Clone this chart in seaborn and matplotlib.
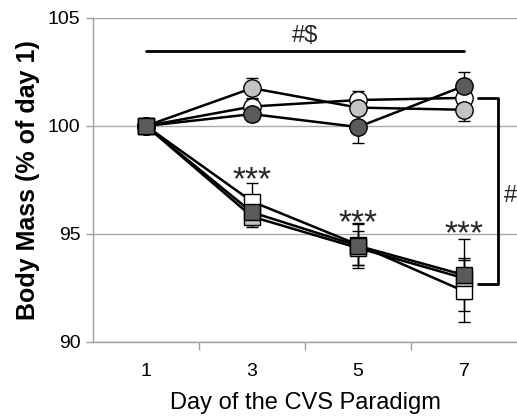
import numpy as np
import pandas as pd
import matplotlib
matplotlib.use('Agg')
import matplotlib.pyplot as plt
import seaborn as sns

# 数据
days = ['1', '3', '5', '7']
ctrl_white = [100, 100.9, 101.2, 101.3]
ctrl_white_err = [0, 0.35, 0.4, 0.3]
ctrl_light = [100, 101.75, 100.85, 100.75]
ctrl_light_err = [0, 0.45, 0.35, 0.5]
ctrl_dark = [100, 100.55, 99.95, 101.85]
ctrl_dark_err = [0, 0.3, 0.75, 0.65]
cvs_white = [100, 96.5, 94.5, 92.35]
cvs_white_err = [0, 0.85, 0.95, 1.45]
cvs_light = [100, 95.8, 94.35, 92.95]
cvs_light_err = [0, 0.5, 0.8, 0.95]
cvs_dark = [100, 96.0, 94.45, 93.1]
cvs_dark_err = [0, 0.6, 1.05, 1.65]

sns.set_theme(style='white')
plt.rcParams['font.family'] = ['Liberation Sans', 'DejaVu Sans']

fig = plt.figure(figsize=(5.17, 4.18), dpi=100)
ax = fig.add_axes([0.18, 0.182, 0.82, 0.775])

x = np.arange(len(days))
series = [
    (ctrl_white, ctrl_white_err, 'o', 'white'),
    (ctrl_light, ctrl_light_err, 'o', '#c3c3c3'),
    (ctrl_dark, ctrl_dark_err, 'o', '#5a5a5a'),
    (cvs_white, cvs_white_err, 's', 'white'),
    (cvs_light, cvs_light_err, 's', '#c3c3c3'),
    (cvs_dark, cvs_dark_err, 's', '#5a5a5a'),
]

# 误差线放在最下面
for vals, err, mk, fc in series:
    ax.errorbar(x, vals, yerr=err, fmt='none', ecolor='black', elinewidth=1,
                capsize=4.5, capthick=1, zorder=2)

for i, (vals, err, mk, fc) in enumerate(series):
    sns.lineplot(x=x, y=vals, ax=ax, color='black', linewidth=1.8,
                 marker=mk, markersize=12.5 if mk == 'o' else 12,
                 markerfacecolor=fc, markeredgecolor='black', markeredgewidth=1,
                 zorder=3 + i)

# 坐标轴
ax.set_xlim(-0.5, 3.5)
ax.set_ylim(90, 105)
ax.set_yticks([90, 95, 100, 105])
ax.set_xticks(x)
ax.set_xticklabels(days)
ax.set_xticks([0.5, 1.5, 2.5], minor=True)
ax.tick_params(axis='x', which='major', length=0, pad=15, labelsize=14, colors='black')
ax.tick_params(axis='x', which='minor', length=6, width=1, color='#a0a0a0', bottom=True)
ax.tick_params(axis='y', length=5, width=1, color='#a0a0a0', left=True, labelsize=14,
               labelcolor='black', pad=4)
ax.yaxis.grid(True, color='#a8a8a8', linewidth=1)
ax.set_axisbelow(True)
for s in ['top', 'right']:
    ax.spines[s].set_visible(False)
for s in ['left', 'bottom']:
    ax.spines[s].set_color('#a0a0a0')
    ax.spines[s].set_linewidth(1)

ax.set_xlabel('Day of the CVS Paradigm', fontsize=17, color='black', labelpad=9)
ax.set_ylabel('Body Mass (% of day 1)', fontsize=18, fontweight='bold', color='black', labelpad=6)

# 显著性标记
ax.plot([0, 3], [103.47, 103.47], color='black', linewidth=2, clip_on=False)
ax.text(1.5, 104.15, '#$', ha='center', va='center', fontsize=17)
ax.text(1, 97.05, '***', ha='center', va='baseline', fontsize=24)
ax.text(2, 95.06, '***', ha='center', va='baseline', fontsize=24)
ax.text(3, 94.55, '***', ha='center', va='baseline', fontsize=24)
ax.plot([3.13, 3.32, 3.32, 3.13], [101.3, 101.3, 92.68, 92.68], color='black',
        linewidth=2, clip_on=False)
ax.text(3.44, 96.76, '#', ha='center', va='center', fontsize=17)

plt.savefig('out.png', dpi=100)
